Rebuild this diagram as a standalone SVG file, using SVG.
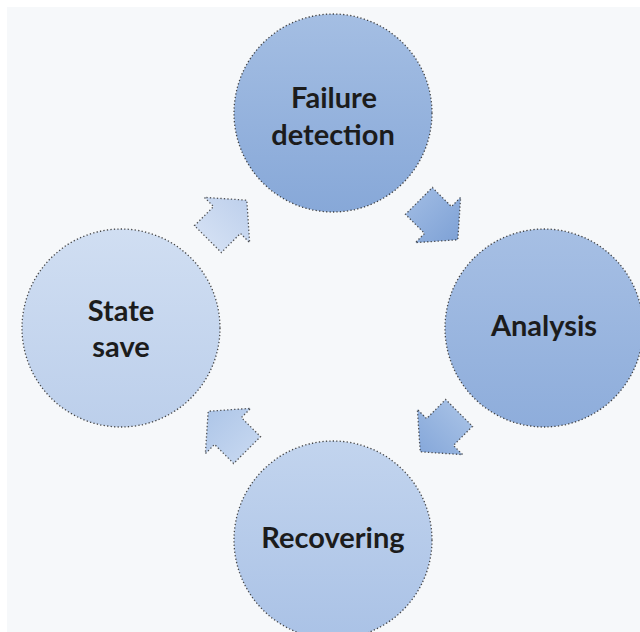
<svg xmlns="http://www.w3.org/2000/svg" width="640" height="632" viewBox="0 0 640 632">
  <style>
    .node { stroke: #2a2a2a; stroke-width: 1.3; stroke-dasharray: 1.3 2.2; stroke-opacity: 0.85; }
    .arrow { stroke: #2a2a2a; stroke-width: 1.3; stroke-dasharray: 1.3 2.2; stroke-opacity: 0.8; }
    .label { font-family: Lato, "Liberation Sans", sans-serif; font-weight: 700; font-size: 29px; fill: #1c1c1c; text-anchor: middle; }
  </style>
  <defs>
    <linearGradient id="g1" x1="0" y1="0" x2="0" y2="1">
      <stop offset="0" stop-color="#a4bee3"/>
      <stop offset="1" stop-color="#87a8d8"/>
    </linearGradient>
    <linearGradient id="g2" x1="0" y1="0" x2="0" y2="1">
      <stop offset="0" stop-color="#a6bfe4"/>
      <stop offset="1" stop-color="#8eaddb"/>
    </linearGradient>
    <linearGradient id="g3" x1="0" y1="0" x2="0" y2="1">
      <stop offset="0" stop-color="#c2d4ee"/>
      <stop offset="1" stop-color="#aac2e6"/>
    </linearGradient>
    <linearGradient id="g4" x1="0" y1="0" x2="0" y2="1">
      <stop offset="0" stop-color="#d0def2"/>
      <stop offset="1" stop-color="#bccfeb"/>
    </linearGradient>
    <linearGradient id="a1" x1="0" y1="0" x2="1" y2="0">
      <stop offset="0" stop-color="#9ab7e1"/>
      <stop offset="1" stop-color="#7fa2d6"/>
    </linearGradient>
    <linearGradient id="a2" x1="0" y1="0" x2="1" y2="0">
      <stop offset="0" stop-color="#a3bee4"/>
      <stop offset="1" stop-color="#86a8da"/>
    </linearGradient>
    <linearGradient id="a3" x1="0" y1="0" x2="1" y2="0">
      <stop offset="0" stop-color="#c3d5ef"/>
      <stop offset="1" stop-color="#aec6e8"/>
    </linearGradient>
    <linearGradient id="a4" x1="0" y1="0" x2="1" y2="0">
      <stop offset="0" stop-color="#d2dff3"/>
      <stop offset="1" stop-color="#bed0ec"/>
    </linearGradient>
    <!-- block arrow pointing along +x, origin at the base of the head -->
    <path id="blockArrow" d="M-27,-19 H0 V-32 L28,0 L0,32 V19 H-27 Z"/>
  </defs>

  <!-- canvas -->
  <rect x="0" y="0" width="640" height="632" fill="#ffffff"/>
  <rect x="7" y="7" width="633" height="625" fill="#f6f8fa"/>

  <!-- cycle arrows -->
  <g id="connectors">
    <use href="#blockArrow" class="arrow" fill="url(#a1)" transform="translate(438,220) rotate(45)"/>
    <use href="#blockArrow" class="arrow" fill="url(#a2)" transform="translate(440,432) rotate(135)"/>
    <use href="#blockArrow" class="arrow" fill="url(#a3)" transform="translate(228,431) rotate(225)"/>
    <use href="#blockArrow" class="arrow" fill="url(#a4)" transform="translate(227,220) rotate(315)"/>
  </g>

  <g id="failure-detection">
    <circle class="node" cx="333" cy="113" r="99" fill="url(#g1)"/>
    <text class="label" x="334" y="108">Failure</text>
    <text class="label" x="333" y="145">detection</text>
  </g>

  <g id="analysis">
    <circle class="node" cx="544" cy="328" r="99" fill="url(#g2)"/>
    <text class="label" x="544" y="336">Analysis</text>
  </g>

  <g id="recovering">
    <circle class="node" cx="333" cy="540" r="99" fill="url(#g3)"/>
    <text class="label" x="333" y="548" font-size="28">Recovering</text>
  </g>

  <g id="state-save">
    <circle class="node" cx="121" cy="328" r="99" fill="url(#g4)"/>
    <text class="label" x="121" y="321">State</text>
    <text class="label" x="121" y="357">save</text>
  </g>
</svg>
